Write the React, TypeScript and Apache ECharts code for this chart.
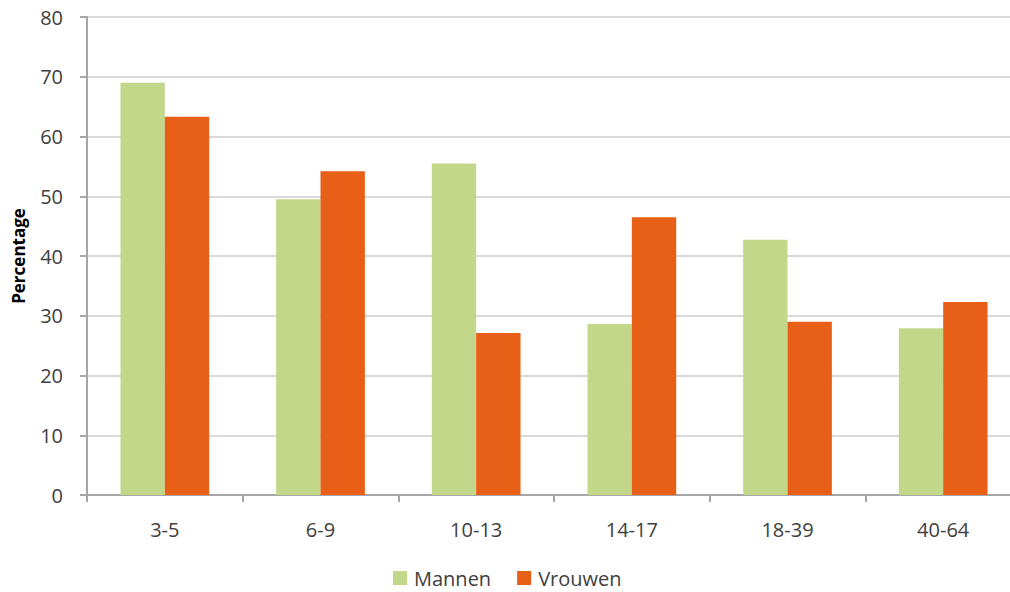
import React, { useEffect, useRef } from "react";
import * as echarts from "echarts";

const categories = ["3-5", "6-9", "10-13", "14-17", "18-39", "40-64"];
const mannen = [69.0, 49.5, 55.5, 28.6, 42.7, 27.9];
const vrouwen = [63.3, 54.2, 27.1, 46.5, 29.0, 32.3];

export default function App() {
  const ref = useRef<HTMLDivElement>(null);
  useEffect(() => {
    const chart = echarts.init(ref.current!, null, { renderer: "svg" });
    const font = "'Open Sans', 'DejaVu Sans', sans-serif";
    chart.setOption({
      animation: false,
      textStyle: { fontFamily: font },
      grid: { left: 87, top: 17, right: 0, bottom: 97, containLabel: false },
      legend: {
        data: ["Mannen", "Vrouwen"],
        bottom: 4,
        left: 393,
        padding: 0,
        itemWidth: 14,
        itemHeight: 14,
        itemGap: 26,
        icon: "rect",
        textStyle: { fontSize: 20, color: "#404040", fontFamily: font, padding: [0, 0, 0, 2] },
      },
      xAxis: {
        type: "category",
        data: categories,
        axisLine: { lineStyle: { color: "#a6a6a6", width: 2 } },
        axisTick: { show: true, length: 7, lineStyle: { color: "#a6a6a6", width: 2 } },
        axisLabel: { color: "#404040", fontSize: 20, margin: 24, fontFamily: font },
      },
      yAxis: {
        type: "value",
        min: 0,
        max: 80,
        interval: 10,
        name: "Percentage",
        nameLocation: "middle",
        nameGap: 60,
        nameRotate: 90,
        nameTextStyle: { fontSize: 17, fontWeight: "bold", color: "#000", fontFamily: font },
        axisLine: { show: true, lineStyle: { color: "#a6a6a6", width: 2 } },
        axisTick: { show: true, length: 7, lineStyle: { color: "#a6a6a6", width: 2 } },
        axisLabel: { color: "#404040", fontSize: 20, margin: 24, fontFamily: font },
        splitLine: { lineStyle: { color: "#d9d9d9", width: 2 } },
      },
      series: [
        {
          name: "Mannen",
          type: "bar",
          data: mannen,
          barGap: "0%",
          barCategoryGap: "43%",
          itemStyle: { color: "#c3d78b" },
        },
        {
          name: "Vrouwen",
          type: "bar",
          data: vrouwen,
          itemStyle: { color: "#e86018" },
        },
      ],
    });
    return () => chart.dispose();
  }, []);
  return (
    <div style={{ width: 1010, height: 592, position: "absolute", left: 0, top: 0, overflow: "hidden" }}>
      <div ref={ref} style={{ width: 1021, height: 592 }} />
    </div>
  );
}
